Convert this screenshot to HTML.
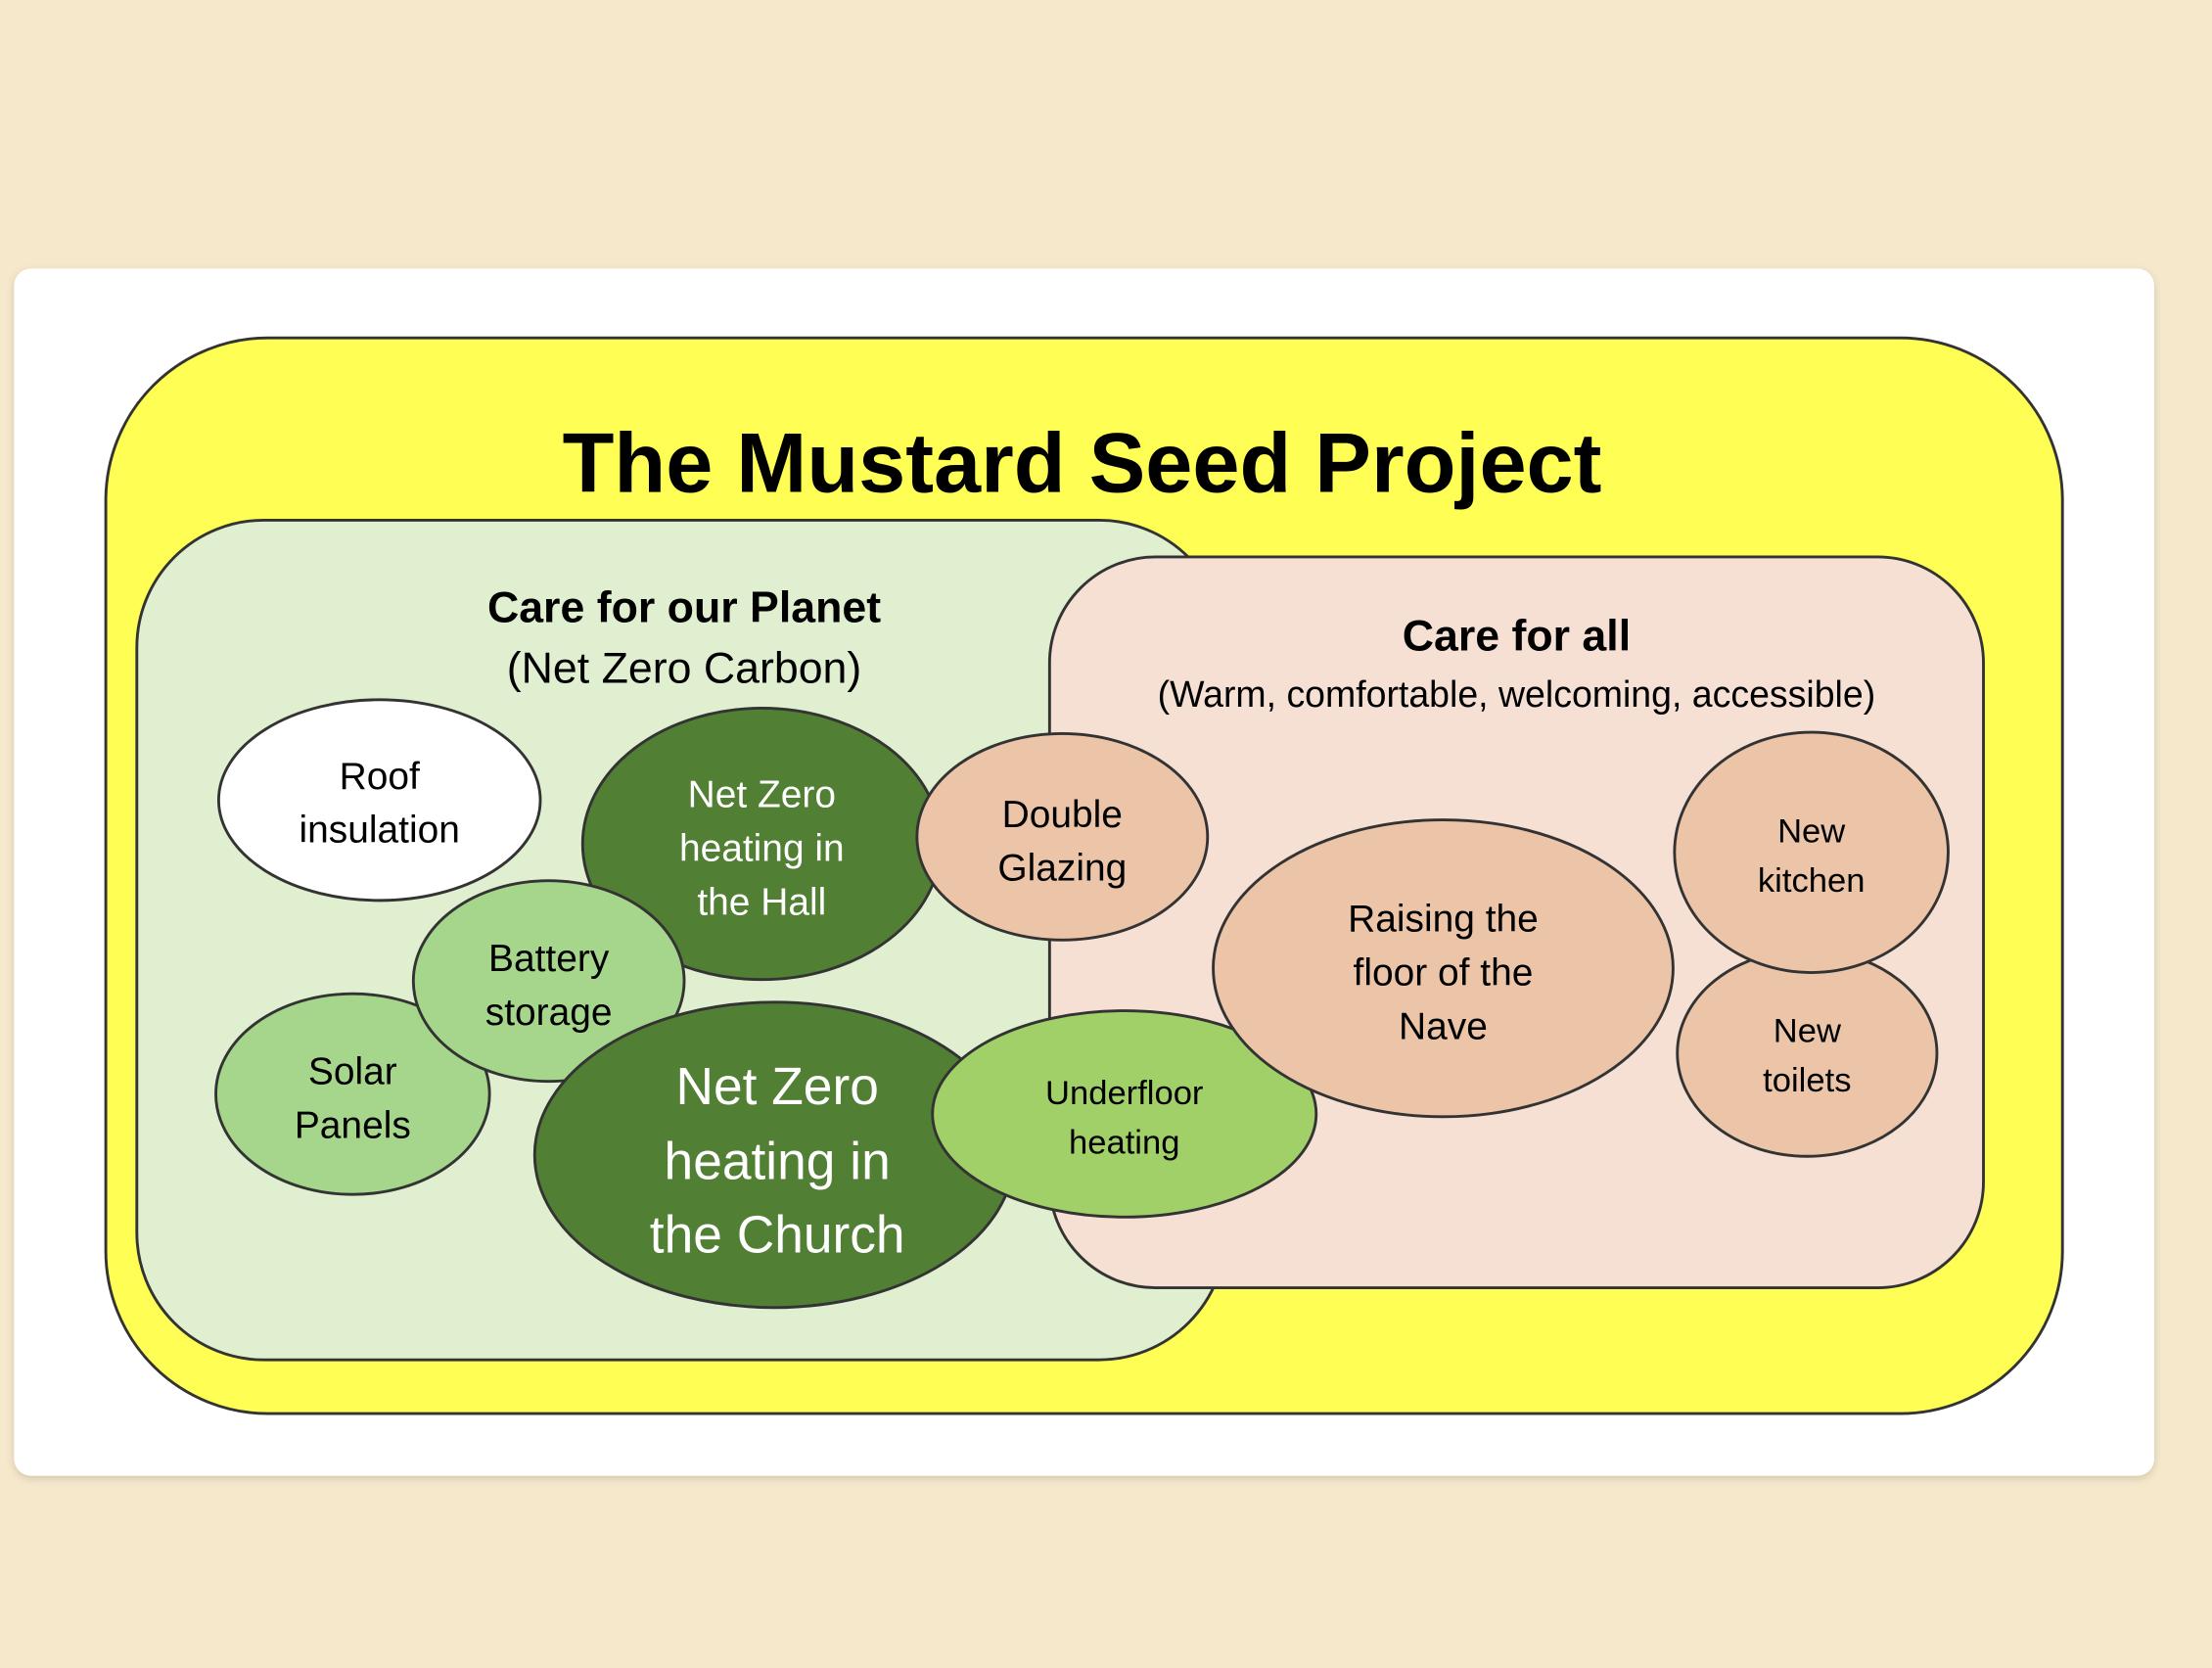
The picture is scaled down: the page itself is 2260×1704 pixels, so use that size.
<!DOCTYPE html>
<html><head><meta charset="utf-8">
<style>
html,body{margin:0;padding:0;background:#f6e8cb;}
svg{display:block;}
text{font-family:"Liberation Sans","DejaVu Sans",sans-serif;text-anchor:middle;}
</style></head>
<body>
<svg width="2260" height="1704" viewBox="0 0 1568 1180" preserveAspectRatio="none" xmlns="http://www.w3.org/2000/svg">
<defs>
<filter id="sh" x="-5%" y="-5%" width="110%" height="110%"><feDropShadow dx="0" dy="2" stdDeviation="3" flood-color="#000" flood-opacity="0.15"/></filter>
</defs>
<rect width="1568" height="1180" fill="#f6e8cb"/>
<rect x="10" y="190" width="1517" height="854" rx="12" fill="#fff" filter="url(#sh)"/>
<rect x="75" y="239" width="1387" height="761" rx="115" fill="#fefe55" stroke="#333" stroke-width="2"/>
<text x="767" y="348" font-size="60" font-weight="bold" fill="#000">The Mustard Seed Project</text>
<rect x="97" y="368" width="772" height="594" rx="90" fill="#dfefcf" stroke="#333" stroke-width="2"/>
<rect x="744" y="394" width="662" height="517" rx="75" fill="#f6e0d4" stroke="#333" stroke-width="2"/>
<text x="485" y="440" font-size="31" font-weight="bold">Care for our Planet</text>
<text x="485" y="483" font-size="31">(Net Zero Carbon)</text>
<text x="1075" y="460" font-size="31" font-weight="bold">Care for all</text>
<text x="1075" y="500" font-size="26">(Warm, comfortable, welcoming, accessible)</text>
<g stroke="#333" stroke-width="2">
<ellipse cx="269" cy="566" rx="114" ry="71" fill="#fff"/>
<ellipse cx="540" cy="597" rx="127" ry="96" fill="#517f33"/>
<ellipse cx="753" cy="592" rx="103" ry="73" fill="#ecc4a8"/>
<ellipse cx="250" cy="774" rx="97" ry="71" fill="#a5d68c"/>
<ellipse cx="389" cy="694" rx="96" ry="71" fill="#a5d68c"/>
<ellipse cx="549" cy="817" rx="170" ry="108" fill="#517f33"/>
<ellipse cx="797" cy="788" rx="136" ry="73" fill="#a1d068"/>
<ellipse cx="1023" cy="685" rx="163" ry="105" fill="#ecc4a8"/>
<ellipse cx="1281" cy="745" rx="92" ry="73" fill="#ecc4a8"/>
<ellipse cx="1284" cy="603" rx="97" ry="85" fill="#ecc4a8"/>
</g>
<g font-size="27">
<text x="269" y="558">Roof</text><text x="269" y="596">insulation</text>
<text x="540" y="571" fill="#fff">Net Zero</text><text x="540" y="609" fill="#fff">heating in</text><text x="540" y="647" fill="#fff">the Hall</text>
<text x="753" y="585">Double</text><text x="753" y="623">Glazing</text>
<text x="389" y="687">Battery</text><text x="389" y="725">storage</text>
<text x="250" y="767">Solar</text><text x="250" y="805">Panels</text>
<text x="1023" y="659">Raising the</text><text x="1023" y="697">floor of the</text><text x="1023" y="735">Nave</text>
</g>
<g font-size="37" fill="#fff">
<text x="551" y="781">Net Zero</text><text x="551" y="834">heating in</text><text x="551" y="886">the Church</text>
</g>
<g font-size="24">
<text x="797" y="781">Underfloor</text><text x="797" y="816">heating</text>
<text x="1284" y="596">New</text><text x="1284" y="631">kitchen</text>
<text x="1281" y="737">New</text><text x="1281" y="772">toilets</text>
</g>
</svg>
</body></html>
